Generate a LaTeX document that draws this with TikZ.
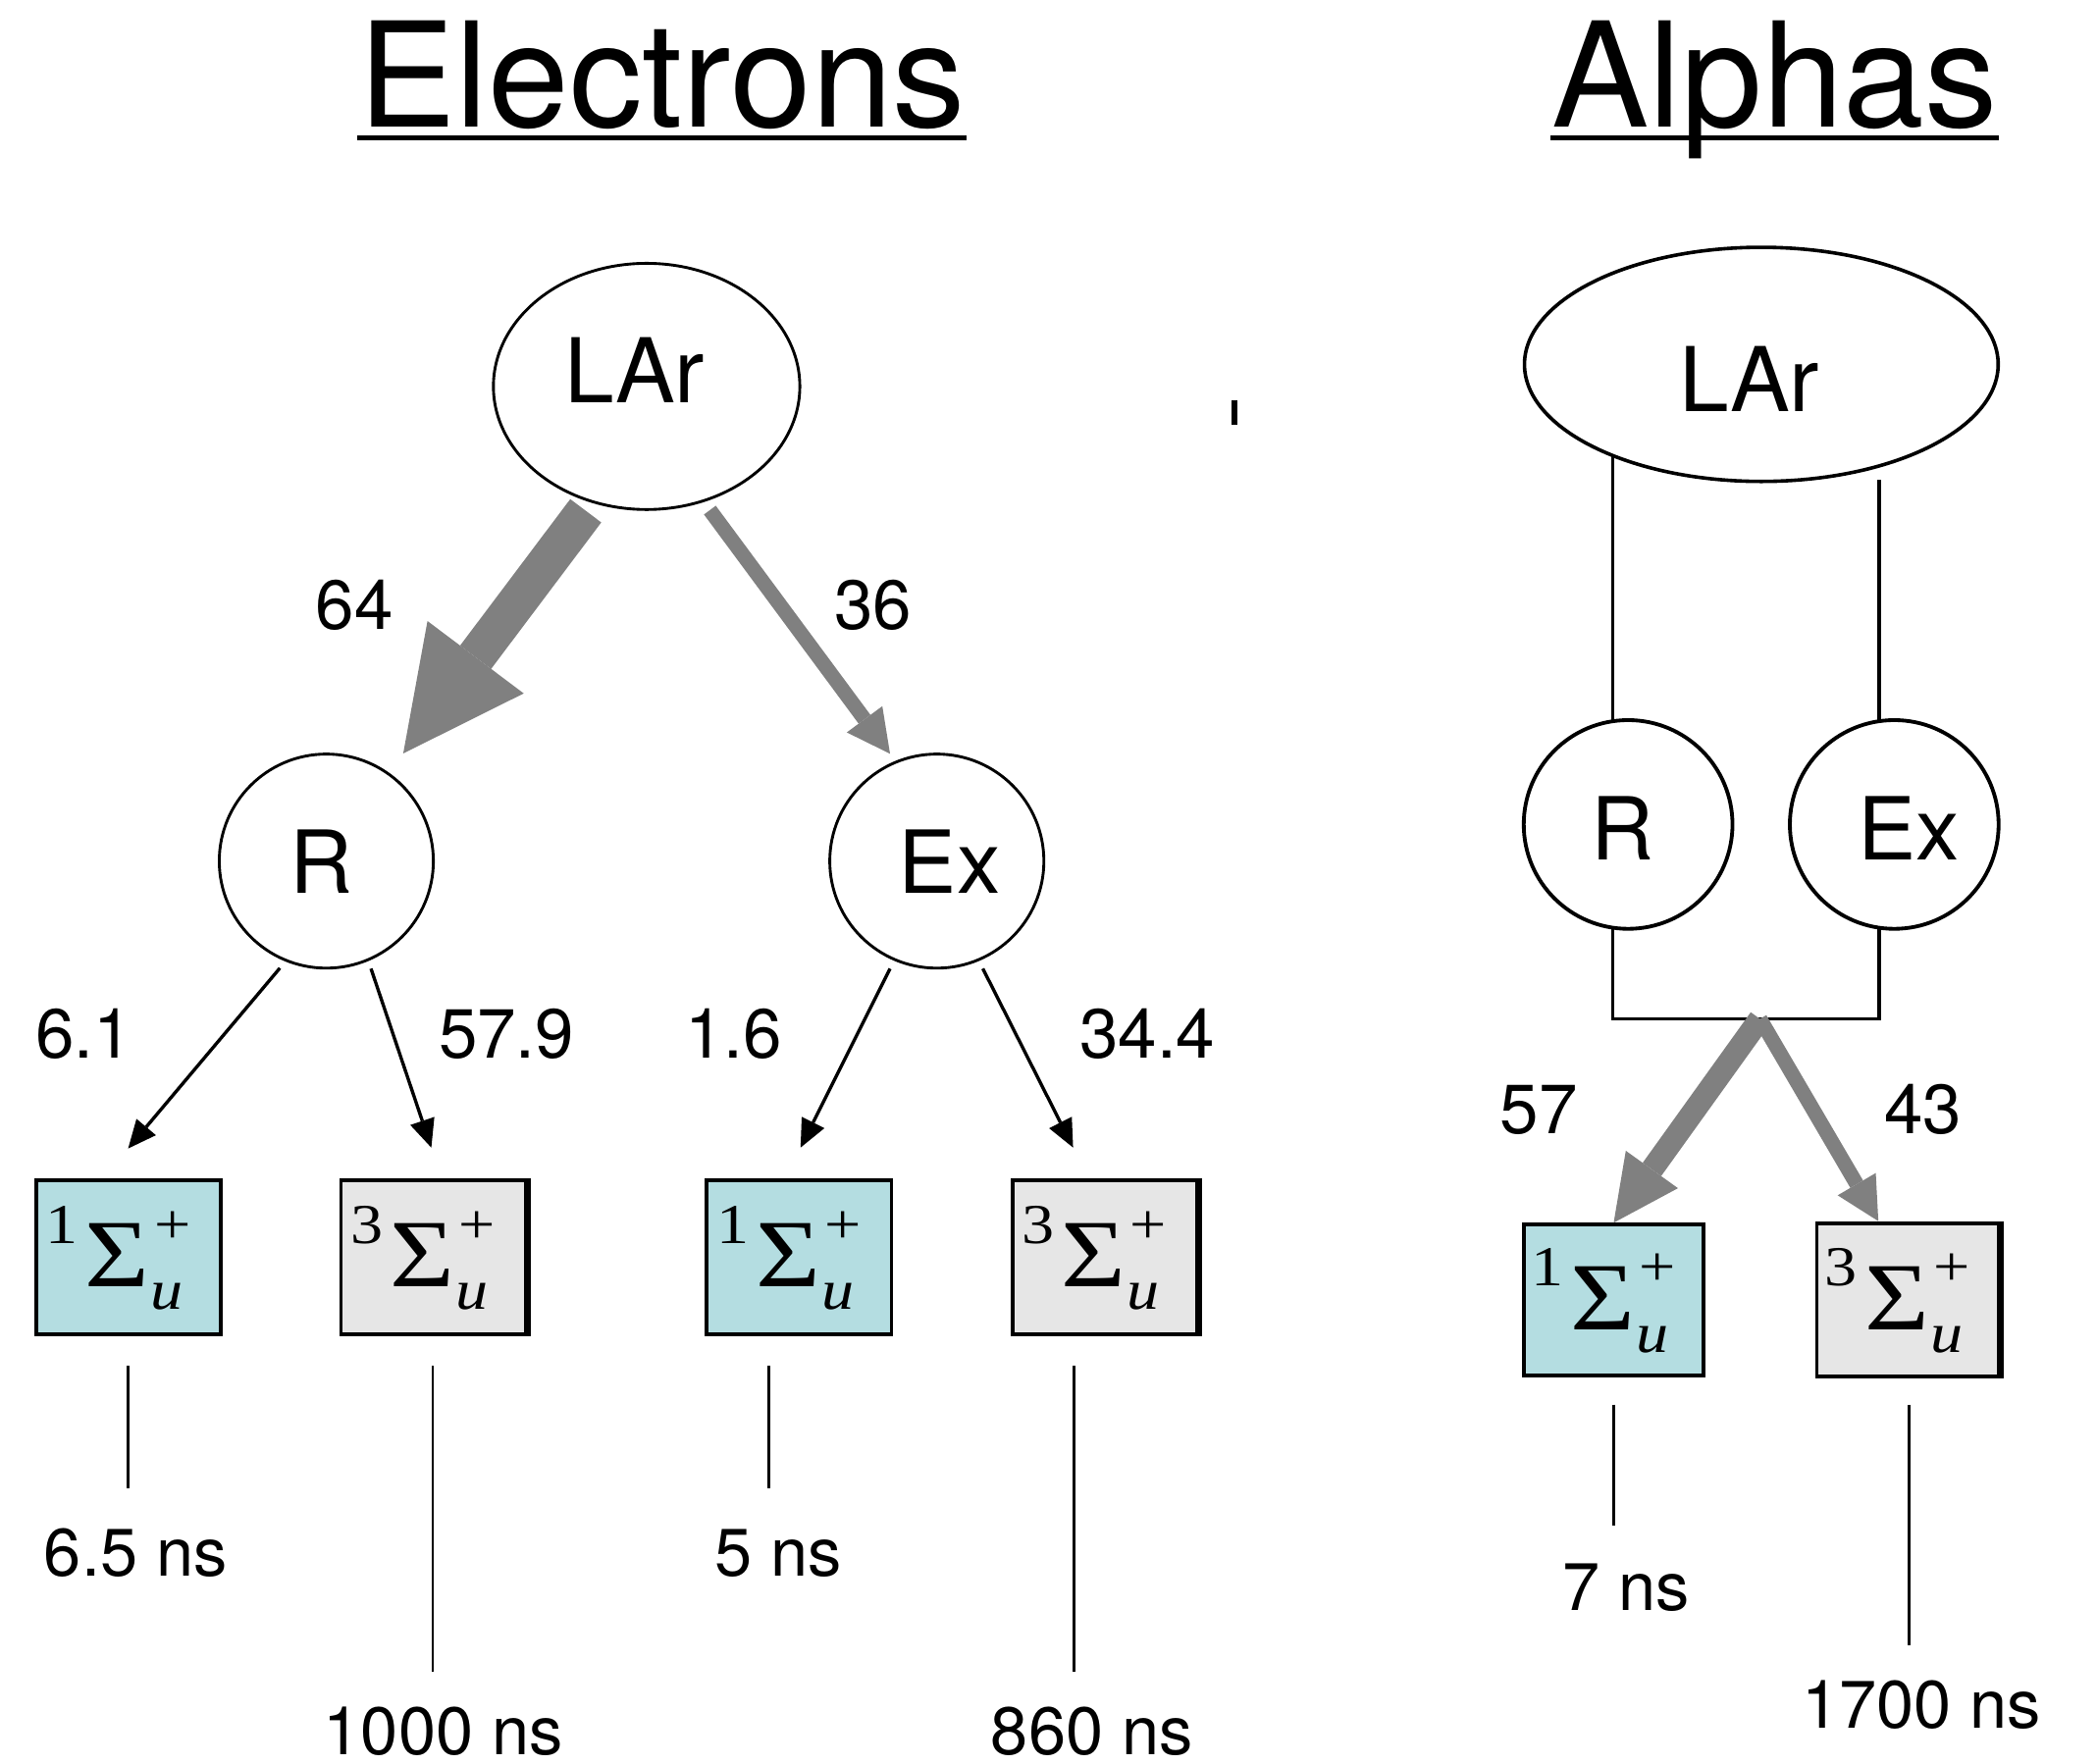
\documentclass[tikz,border=0pt]{standalone}
\usepackage{fontspec}
\setmainfont{TeX Gyre Heros}
\newfontfamily\tms{Liberation Serif}
\usepackage{graphicx}
\usetikzlibrary{arrows.meta,calc,shapes.geometric}
\definecolor{cyanbox}{RGB}{180,221,225}
\definecolor{graybox}{RGB}{230,230,230}
\definecolor{arrgray}{RGB}{128,128,128}
% shift the ink of a text without changing its box
\newcommand{\sh}[3]{\raisebox{#2}[\height][\depth]{\kern#1\relax #3\kern-#1\relax}}
% molecular state symbol  ^{n}Sigma^{+}_{u}
\newcommand{\sstate}[1]{\raisebox{0pt}[17.5pt][4.9pt]{\scalebox{1.15}[1]{\tms
  \raisebox{9.36pt}{\fontsize{12pt}{12pt}\selectfont #1}%
  \kern1.3pt{\fontsize{20.5pt}{20.5pt}\selectfont Σ}%
  \kern0.2pt\rlap{\raisebox{-4.8pt}{\fontsize{12pt}{12pt}\selectfont\itshape u}}%
  \kern0.6pt\raisebox{9.36pt}{\fontsize{12pt}{12pt}\selectfont +}%
  \kern3.74pt}}}
\tikzset{
  titletext/.style={inner sep=0pt, font=\fontsize{31pt}{31pt}\selectfont},
  bub/.style={circle, draw, line width=0.6pt, minimum size=1.6cm, inner sep=0pt,
    font=\fontsize{18.5pt}{18.5pt}\selectfont},
  bubA/.style={circle, draw, line width=0.8pt, minimum size=1.56cm, inner sep=0pt,
    font=\fontsize{18.5pt}{18.5pt}\selectfont},
  larnode/.style={ellipse, draw, inner sep=0pt, font=\fontsize{19pt}{19pt}\selectfont},
  statebox/.style={rectangle, draw, line width=0.8pt, inner sep=0pt,
    minimum width=1.38cm, minimum height=1.15cm},
  cbox/.style={statebox, fill=cyanbox},
  gbox/.style={statebox, fill=graybox},
  num/.style={inner sep=0pt, anchor=base, font=\fontsize{14.8pt}{14.8pt}\selectfont},
  life/.style={inner sep=0pt, anchor=base, font=\fontsize{14.3pt}{14.3pt}\selectfont},
  lifeline/.style={line width=0.55pt},
  link/.style={line width=0.7pt},
  blackarrow/.style={line width=0.7pt, -{Triangle[length=0.21cm,width=0.19cm,line width=0pt]}},
  bigarrow/.style={arrgray, line width=0.29cm, -{Triangle[length=0.9cm,width=0.9cm,line width=0pt]}},
  midarrow/.style={arrgray, line width=0.17cm, -{Triangle[length=0.49cm,width=0.48cm,line width=0pt]}},
  slimarrow/.style={arrgray, line width=0.11cm, -{Triangle[length=0.32cm,width=0.33cm,line width=0pt]}},
}
\begin{document}
\begin{tikzpicture}[x=0.01cm, y=-0.01cm]
\useasboundingbox (0,0) rectangle (1568,1318.6);

% titles
\node[titletext, anchor=base] (tel) at (495,95) {Electrons};
\node[titletext, anchor=base] (tal) at (1327,95) {Alphas};
\draw[line width=1.1pt] ($(tel.base west)+(0,8)$) -- ($(tel.base east)+(0,8)$);
\draw[line width=1.1pt] ($(tal.base west)+(0,8)$) -- ($(tal.base east)+(0,8)$);

% ---------------- Electrons ----------------
\node[larnode, line width=0.6pt, minimum width=2.29cm, minimum height=1.84cm] (lar1) at (483.5,289) {\sh{-2.56pt}{3.5pt}{LAr}};
\node[bub] (rel) at (244,644) {\sh{-1.1pt}{0pt}{R}};
\node[bub] (exel) at (700.5,644) {\sh{2.7pt}{0pt}{Ex}};

\draw[bigarrow] ($(lar1.center)+(-45.5,93)$) -- ($(rel.center)+(57.5,-80.5)$);
\draw[slimarrow] ($(lar1.center)+(47.3,92.5)$) -- ($(exel.center)+(-35,-80.3)$);
\node[num] (n64) at (265,471) {64};
\node[num] (n36) at (652.8,471) {36};

\node[cbox] (b1) at (96,940.5) {\sstate{1}};
\node[gbox] (b2) at (324,940.5) {\sstate{3}};
\node[cbox] (b3) at (597.5,940.5) {\sstate{1}};
\node[gbox] (b4) at (826,940.5) {\sstate{3}};
\draw[line width=1.5pt] (b2.north east) -- (b2.south east);
\draw[line width=1.5pt] (b4.north east) -- (b4.south east);

\draw[blackarrow] ($(rel.center)+(-34.7,80)$) -- ($(b1.north)+(-0.2,-22.6)$);
\draw[blackarrow] ($(rel.center)+(33.4,80.4)$) -- ($(b2.north)+(-1.5,-23.3)$);
\draw[blackarrow] ($(exel.center)+(-35,80.4)$) -- ($(b3.north)+(1.1,-23.3)$);
\draw[blackarrow] ($(exel.center)+(34.4,80.4)$) -- ($(b4.north)+(-23.6,-23.3)$);
\node[num] (n61) at (63,791) {6.1};
\node[num] (n579) at (378.7,791) {57.9};
\node[num] (n16) at (548.4,791) {1.6};
\node[num] (n344) at (858,791) {34.4};

\draw[lifeline] ($(b1.south)+(-0.4,22)$) -- ++(0,91.6);
\draw[lifeline] ($(b2.south)+(-0.4,22)$) -- ++(0,228.6);
\draw[lifeline] ($(b3.south)+(-22.5,22)$) -- ++(0,91.6);
\draw[lifeline] ($(b4.south)+(-23,22)$) -- ++(0,228.6);
\node[life] (t1) at (101.5,1179) {6.5 ns};
\node[life] (t2) at (331.5,1312) {1000 ns};
\node[life] (t3) at (582,1179) {5 ns};
\node[life] (t4) at (816.5,1312) {860 ns};

% small stray mark
\draw[line width=1.1pt] (923,299) -- (923,318);

% ---------------- Alphas ----------------
\node[larnode, line width=0.75pt, minimum width=3.54cm, minimum height=1.75cm] (lar2) at (1317,272.5) {\sh{-2.56pt}{-3.1pt}{LAr}};
\node[bubA] (ral) at (1217.4,616.6) {\sh{-1.25pt}{-0.7pt}{R}};
\node[bubA] (exal) at (1416.4,616.6) {\sh{3pt}{-0.7pt}{Ex}};
\coordinate (jn) at (1316,762);

\draw[link] ($(lar2.center)+(-111,69)$) -- ($(ral.center)+(-11.4,-77.2)$);
\draw[link] ($(lar2.center)+(88,86.5)$) -- ($(exal.center)+(-11.4,-77.2)$);
\draw[link] ($(ral.center)+(-11.4,77.2)$) |- (jn) -| ($(exal.center)+(-11.4,77.2)$);

\node[cbox, minimum width=1.34cm, minimum height=1.126cm] (a1) at (1206.6,972.2) {\sstate{1}};
\node[gbox, minimum width=1.36cm, minimum height=1.15cm] (a2) at (1426.5,972.2) {\sstate{3}};
\draw[line width=1.3pt] (a2.north east) -- (a2.south east);

\draw[slimarrow] (jn) -- ($(a2.north)+(-22,0)$);
\draw[midarrow] (jn) -- (a1.north);
\node[num] (n57) at (1150.7,847.5) {57};
\node[num] (n43) at (1437.8,847.5) {43};

\draw[lifeline] ($(a1.south)+(-0.2,20.5)$) -- ++(0,90.7);
\draw[lifeline] ($(a2.south)+(1.1,19.4)$) -- ++(0,180);
\node[life] (t5) at (1215.8,1204.5) {7 ns};
\node[life] (t6) at (1436.7,1292.6) {1700 ns};
\end{tikzpicture}
\end{document}
